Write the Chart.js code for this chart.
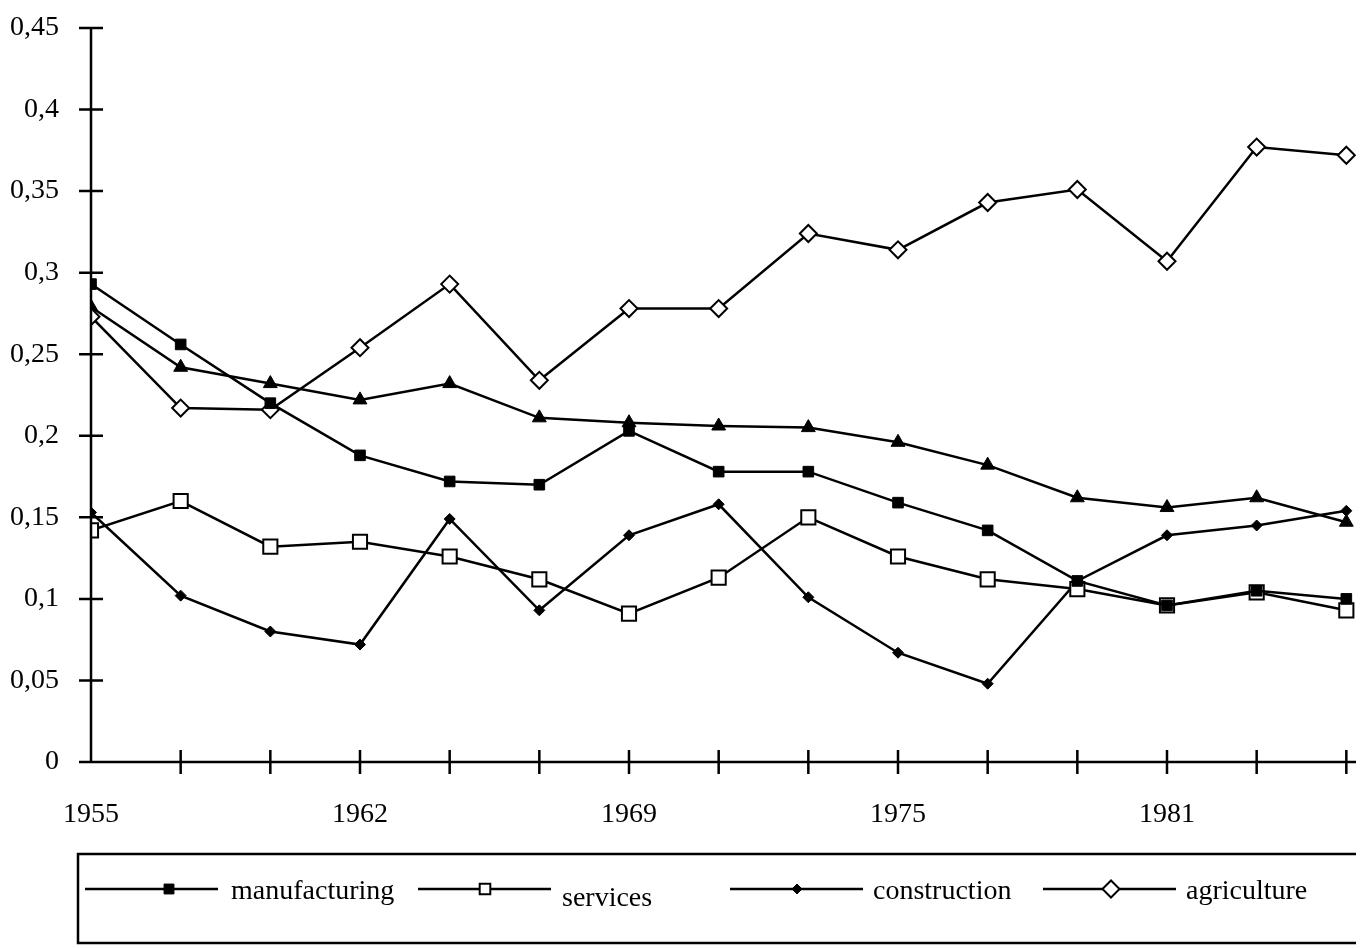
<!DOCTYPE html>
<html lang="en">
<head>
<meta charset="UTF-8">
<title>Sector shares</title>
<script src="https://cdn.jsdelivr.net/npm/chart.js"></script>
<style>
  html, body { margin: 0; padding: 0; background: #fff; overflow: hidden; }
  .frame { width: 1356px; height: 948px; overflow: hidden; }
  #chart { display: block; }
</style>
</head>
<body>
<div class="frame"><canvas id="chart" width="1450" height="948"></canvas></div>

<script>
// tick labels on the x axis (one per observation, only every third is printed)
const xTickLabels = ['1955', '', '', '1962', '', '', '1969', '', '', '1975', '', '', '1981', '', ''];

const manufacturing = [0.293, 0.256, 0.220, 0.188, 0.172, 0.170, 0.203, 0.178, 0.178, 0.159, 0.142, 0.111, 0.096, 0.105, 0.100];
const services      = [0.142, 0.160, 0.132, 0.135, 0.126, 0.112, 0.091, 0.113, 0.150, 0.126, 0.112, 0.106, 0.096, 0.104, 0.093];
const construction  = [0.153, 0.102, 0.080, 0.072, 0.149, 0.093, 0.139, 0.158, 0.101, 0.067, 0.048, 0.111, 0.139, 0.145, 0.154];
const agriculture   = [0.273, 0.217, 0.216, 0.254, 0.293, 0.234, 0.278, 0.278, 0.324, 0.314, 0.343, 0.351, 0.307, 0.377, 0.372];
// fifth series, its legend entry is cut off in the original
const fifthSeries   = [0.279, 0.242, 0.232, 0.222, 0.232, 0.211, 0.208, 0.206, 0.205, 0.196, 0.182, 0.162, 0.156, 0.162, 0.147];

const FONT = 'Liberation Serif, Times New Roman, serif';
const LINE_W = 2.5;

function toPoints(values) {
    return values.map((v, i) => ({ x: i, y: v }));
}

function series(label, values, style, radius, fill, bw, legendRadius) {
    return {
        label: label,
        data: toPoints(values),
        borderColor: '#000',
        borderWidth: LINE_W,
        pointStyle: style,
        pointRadius: radius,
        pointHoverRadius: radius,
        pointBackgroundColor: fill,
        pointBorderColor: '#000',
        pointBorderWidth: bw,
        legendRadius: legendRadius,
        tension: 0
    };
}

// legend boxes, x positions of line sample / marker / text
const legendLayout = [
    { line: 85,   mark: 169,  text: 231,  dy: 0 },
    { line: 418,  mark: 485,  text: 562,  dy: 7 },
    { line: 730,  mark: 797,  text: 873,  dy: 0 },
    { line: 1043, mark: 1111, text: 1186, dy: 0 }
];

// axes drawn by hand: ticks cross the axis line, axis above the markers
const axesOnTop = {
    id: 'axesOnTop',
    afterDatasetsDraw(chart) {
        const ctx = chart.ctx;
        const a = chart.chartArea;
        const xs = chart.scales.x, ys = chart.scales.y;
        ctx.save();
        ctx.strokeStyle = '#000';
        ctx.lineWidth = LINE_W;
        ctx.beginPath();
        ctx.moveTo(a.left, a.top);
        ctx.lineTo(a.left, a.bottom);
        ctx.moveTo(a.left - 12, a.bottom);
        ctx.lineTo(chart.width, a.bottom);
        ys.ticks.forEach((t, i) => {
            const y = ys.getPixelForTick(i);
            ctx.moveTo(a.left - 12, y);
            ctx.lineTo(a.left + 12, y);
        });
        xs.ticks.forEach((t, i) => {
            if (i === 0) return;
            const x = xs.getPixelForTick(i);
            ctx.moveTo(x, a.bottom - 12);
            ctx.lineTo(x, a.bottom + 12);
        });
        ctx.stroke();
        ctx.restore();
    }
};

const boxLegend = {
    id: 'boxLegend',
    afterDraw(chart) {
        const ctx = chart.ctx;
        const lineY = 889;
        ctx.save();
        ctx.strokeStyle = '#000';
        ctx.lineWidth = LINE_W;
        ctx.strokeRect(78, 854, chart.width, 89);

        legendLayout.forEach((item, i) => {
            const d = chart.data.datasets[i];
            ctx.beginPath();
            ctx.moveTo(item.line, lineY);
            ctx.lineTo(item.line + 133, lineY);
            ctx.lineWidth = LINE_W;
            ctx.strokeStyle = '#000';
            ctx.stroke();

            ctx.fillStyle = d.pointBackgroundColor;
            ctx.strokeStyle = '#000';
            ctx.lineWidth = d.pointBorderWidth;
            Chart.helpers.drawPoint(ctx, {
                pointStyle: d.pointStyle,
                radius: d.legendRadius,
                rotation: 0,
                borderWidth: d.pointBorderWidth
            }, item.mark, lineY);

            ctx.fillStyle = '#000';
            ctx.font = '28px ' + FONT;
            ctx.textBaseline = 'alphabetic';
            ctx.textAlign = 'left';
            ctx.fillText(d.label, item.text, 899 + item.dy);
        });
        ctx.restore();
    }
};

Chart.defaults.font.family = FONT;
Chart.defaults.font.size = 28;
Chart.defaults.color = '#000';

// invisible tick marks only push the labels away from the axis
const spacer = (len) => ({
    display: true,
    drawOnChartArea: false,
    drawTicks: true,
    tickLength: len,
    color: 'rgba(0,0,0,0)'
});

new Chart(document.getElementById('chart'), {
    type: 'line',
    data: {
        datasets: [
            series('manufacturing', manufacturing, 'rect', 7.5, '#000', 1, 7),
            series('services', services, 'rect', 10, '#fff', 2, 7.5),
            series('construction', construction, 'rectRot', 5.5, '#000', 1, 5),
            series('agriculture', agriculture, 'rectRot', 8.5, '#fff', 2, 8.5),
            series('', fifthSeries, 'triangle', 8, '#000', 1, 7.5)
        ]
    },
    options: {
        responsive: false,
        animation: false,
        events: [],
        layout: { padding: { top: 28, right: 14, bottom: 100, left: 0 } },
        plugins: {
            legend: { display: false },
            tooltip: { enabled: false }
        },
        scales: {
            x: {
                type: 'linear',
                min: 0,
                max: 15,
                grid: spacer(36),
                border: { display: false },
                ticks: {
                    stepSize: 1,
                    autoSkip: false,
                    maxRotation: 0,
                    padding: 0,
                    callback: (v) => xTickLabels[v] || ''
                },
                afterFit: (scale) => { scale.height = 86; }
            },
            y: {
                min: 0,
                max: 0.45,
                grid: spacer(32),
                border: { display: false },
                ticks: {
                    stepSize: 0.05,
                    padding: 0,
                    callback: (v) => String(Number(v.toFixed(2))).replace('.', ',')
                },
                afterFit: (scale) => { scale.width = 91; }
            }
        }
    },
    plugins: [axesOnTop, boxLegend]
});
</script>
</body>
</html>
